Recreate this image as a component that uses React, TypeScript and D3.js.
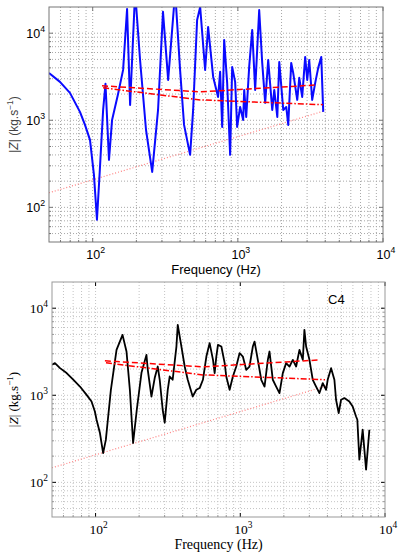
import React from 'react';
import * as d3 from 'd3';

// upper panel: measured impedance (blue)
const topFreq = [50, 59.5, 69.7, 81.7, 88.5, 95.8, 102, 107, 112, 118, 122.5, 129.5, 136, 149, 162, 172.5, 181, 196, 212, 233, 257, 282, 305, 331, 370, 400, 426, 469, 492, 524, 550, 595, 624, 676, 731, 755, 780, 805, 844, 885, 914, 958, 989, 1037, 1088, 1106, 1142, 1197, 1256, 1316, 1403, 1472, 1543, 1618, 1726, 1782, 1870, 1929, 2055, 2155, 2224, 2332, 2406, 2565, 2649, 2775, 2910, 3006, 3103, 3253, 3411, 3578, 3755, 3875];
const topZ = [3500, 2760, 2065, 1250, 885, 596, 236, 72, 270, 1315, 2620, 351, 1010, 1955, 3790, 19000, 1500, 30000, 4930, 774, 255, 1315, 17600, 2910, 30000, 3790, 885, 401, 1315, 14200, 20000, 3790, 11800, 3150, 1853, 3600, 839, 8380, 2690, 401, 4100, 2760, 839, 1422, 1010, 2234, 1092, 4100, 10900, 2234, 18500, 4560, 1585, 4930, 1315, 2234, 1092, 4680, 1315, 1422, 885, 4560, 3500, 1715, 3070, 1853, 5345, 2910, 4930, 1715, 2690, 4000, 5345, 1250];

// lower panel: measured impedance C4 (black)
const bottomFreq = [50, 52.4, 56.8, 63.1, 70.1, 78, 86.7, 93.8, 98.9, 101.6, 107.1, 112.8, 117.8, 121.6, 127.6, 139.6, 153.6, 163.6, 172.6, 181.7, 192.7, 207.6, 224.7, 229.5, 243.3, 256.4, 269, 277.5, 291, 300.5, 315.3, 325.4, 341, 362, 369.8, 392, 413, 433.5, 469, 497, 524, 552, 583, 614, 648, 665, 683, 701, 740, 780, 800, 844, 889, 938, 989, 1042, 1099, 1158, 1221, 1255, 1322, 1396, 1471, 1550, 1592, 1678, 1770, 1866, 1967, 2074, 2188, 2307, 2432, 2564, 2704, 2774, 2851, 3006, 3169, 3341, 3523, 3715, 3917, 4018, 4242, 4470, 4590, 4786, 4972, 5240, 5670, 5980, 6310, 6440, 6650, 7010, 7400, 7800];
const bottomZ = [2240, 2340, 2050, 1800, 1510, 1260, 1010, 849, 652, 524, 372, 217, 309, 524, 1156, 3325, 4940, 3180, 1156, 283, 682, 1811, 2911, 1960, 968, 1588, 2140, 1507, 682, 484, 1156, 1644, 1507, 3630, 6430, 3630, 2140, 1507, 968, 1156, 1210, 1507, 2786, 3970, 2553, 1798, 2786, 3790, 3630, 2340, 1644, 1156, 1644, 2140, 3050, 2786, 1960, 2140, 3630, 4140, 2553, 1507, 1260, 2553, 3180, 1507, 1260, 1060, 1798, 2340, 2140, 2553, 2140, 3325, 2553, 5640, 3630, 2553, 1507, 1260, 1060, 1380, 1156, 1507, 2050, 1507, 888, 625, 888, 929, 849, 745, 571, 524, 182, 402, 140, 402];

// red fitted curves and dotted trend (same in both panels)
const fitDashFreq = [116, 550, 3550];
const fitDashZ = [2490, 2120, 2550];
const fitDotDashFreq = [118, 550, 3850];
const fitDotDashZ = [2360, 1715, 1510];
const trendFreq = [50, 4000];
const trendZ = [147, 1290];

const xDecades = [100, 1000, 10000];
const yDecades = [100, 1000, 10000];
const xExp = ['2', '3', '4'];
const yExp = ['2', '3', '4'];

const minors = (lo: number, hi: number) => {
  const out: number[] = [];
  for (let e = 1; e <= 4; e++) {
    for (let k = 2; k <= 9; k++) {
      const v = k * Math.pow(10, e);
      if (v > lo && v < hi) out.push(v);
    }
  }
  return out;
};

type PanelProps = {
  id: string;
  left: number; right: number; top: number; bottom: number;
  freq: number[]; z: number[];
  color: string; lineWidth: number;
  font: string; tickSize: number; titleSize: number;
  gridColor: string; frameColor: string; tickColor: string;
  labelColor: string;
  tag?: string;
};

function Panel(p: PanelProps) {
  const x = d3.scaleLog().domain([50, 10000]).range([p.left, p.right]);
  const y = d3.scaleLog().domain([40, 20000]).range([p.bottom, p.top]);
  const line = d3.line<[number, number]>().x(d => x(d[0])).y(d => y(d[1]));
  const zip = (a: number[], b: number[]) => a.map((v, i) => [v, b[i]] as [number, number]);
  const xm = minors(50, 10000);
  const ym = minors(40, 20000);
  const cx = (p.left + p.right) / 2;
  const cy = (p.top + p.bottom) / 2;

  return (
    <g fontFamily={p.font}>
      <defs>
        <clipPath id={p.id}>
          <rect x={p.left} y={p.top} width={p.right - p.left} height={p.bottom - p.top} />
        </clipPath>
      </defs>
      {/* grid */}
      {xm.concat(xDecades.slice(0, 2)).map(v => (
        <line key={'gx' + v} x1={x(v)} x2={x(v)} y1={p.top} y2={p.bottom}
          stroke={p.gridColor} strokeDasharray="1,2" />
      ))}
      {ym.concat(yDecades).map(v => (
        <line key={'gy' + v} x1={p.left} x2={p.right} y1={y(v)} y2={y(v)}
          stroke={p.gridColor} strokeDasharray="1,2" />
      ))}
      {/* ticks */}
      {xDecades.map(v => (
        <g key={'tx' + v}>
          <line x1={x(v)} x2={x(v)} y1={p.bottom} y2={p.bottom - 4} stroke={p.tickColor} />
          <line x1={x(v)} x2={x(v)} y1={p.top} y2={p.top + 4} stroke={p.tickColor} />
        </g>
      ))}
      {yDecades.map(v => (
        <g key={'ty' + v}>
          <line x1={p.left} x2={p.left + 4} y1={y(v)} y2={y(v)} stroke={p.tickColor} />
          <line x1={p.right} x2={p.right - 4} y1={y(v)} y2={y(v)} stroke={p.tickColor} />
        </g>
      ))}
      {ym.map(v => (
        <g key={'tm' + v}>
          <line x1={p.left} x2={p.left + 2} y1={y(v)} y2={y(v)} stroke={p.frameColor} />
          <line x1={p.right} x2={p.right - 2} y1={y(v)} y2={y(v)} stroke={p.frameColor} />
        </g>
      ))}
      {xm.map(v => (
        <line key={'txm' + v} x1={x(v)} x2={x(v)} y1={p.bottom} y2={p.bottom - 2} stroke={p.frameColor} />
      ))}
      {/* curves */}
      <g clipPath={`url(#${p.id})`} fill="none">
        <path d={line(zip(trendFreq, trendZ)) || ''} stroke="#ff8080" strokeWidth={1.2} strokeDasharray="1,2" />
        <path d={line(zip(p.freq, p.z)) || ''} stroke={p.color} strokeWidth={p.lineWidth} strokeLinejoin="round" />
        <path d={line(zip(fitDashFreq, fitDashZ)) || ''} stroke="#ff0000" strokeWidth={1.5} strokeDasharray="6,3" />
        <path d={line(zip(fitDotDashFreq, fitDotDashZ)) || ''} stroke="#ff0000" strokeWidth={1.5} strokeDasharray="6,2,1.5,2" />
      </g>
      <rect x={p.left} y={p.top} width={p.right - p.left} height={p.bottom - p.top}
        fill="none" stroke={p.frameColor} />
      {/* tick labels */}
      {xDecades.map((v, i) => (
        <text key={'lx' + v} x={x(v) + 3} y={p.bottom + 17} textAnchor="middle"
          fontSize={p.tickSize} fill="#000">
          10<tspan dy={-6} fontSize={p.tickSize * 0.7}>{xExp[i]}</tspan>
        </text>
      ))}
      {yDecades.map((v, i) => (
        <text key={'ly' + v} x={p.left - 4} y={y(v) + 5} textAnchor="end"
          fontSize={p.tickSize} fill="#000">
          10<tspan dy={-6} fontSize={p.tickSize * 0.7}>{yExp[i]}</tspan>
        </text>
      ))}
      {/* titles */}
      <text x={cx} y={p.bottom + 32} textAnchor="middle" fontSize={p.titleSize} fill="#000">
        Frequency (Hz)
      </text>
      <text transform={`translate(18,${cy}) rotate(-90)`} textAnchor="middle"
        fontSize={p.titleSize - 1} fill={p.labelColor}>
        |<tspan fontStyle="italic">Z</tspan>| (kg.s<tspan dy={-5} fontSize={(p.titleSize - 1) * 0.7}>−1</tspan><tspan dy={5}>)</tspan>
      </text>
      {p.tag && (
        <text x={328} y={p.top + 22} fontSize={13} fontFamily="Liberation Sans, Arial, sans-serif" fill="#000">
          {p.tag}
        </text>
      )}
    </g>
  );
}

export default function App() {
  return (
    <svg width={399} height={553} style={{ position: 'absolute', left: 0, top: 0, background: '#fff' }}>
      <Panel id="clipTop" left={49} right={383} top={7} bottom={242}
        freq={topFreq} z={topZ} color="#0a0aff" lineWidth={2}
        font="Liberation Sans, Arial, sans-serif" tickSize={12.5} titleSize={13}
        gridColor="#a8a8a8" frameColor="#777" tickColor="#777" labelColor="#444" />
      <Panel id="clipBottom" left={52} right={385} top={282} bottom={517}
        freq={bottomFreq} z={bottomZ} color="#000" lineWidth={1.8}
        font="Liberation Serif, Times New Roman, serif" tickSize={13.5} titleSize={14}
        gridColor="#c4c4c4" frameColor="#999" tickColor="#000" labelColor="#000" tag="C4" />
    </svg>
  );
}
